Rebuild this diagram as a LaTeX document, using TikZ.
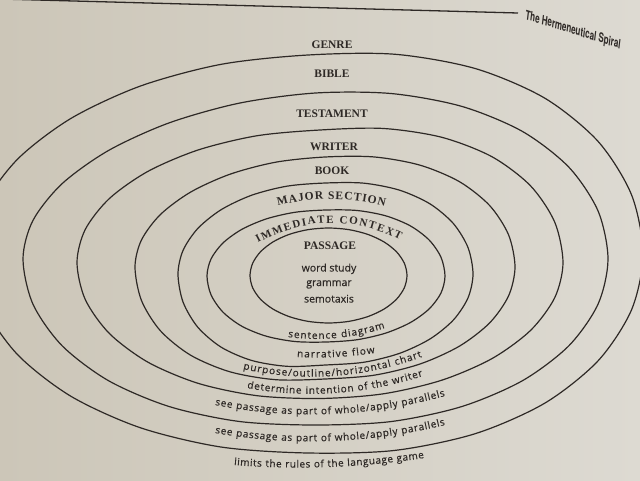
\documentclass[tikz,border=0pt]{standalone}
\usepackage{fontspec}
\usetikzlibrary{decorations.text}
\newfontfamily\capsfont{Liberation Serif}
\newfontfamily\lowfont{Open Sans}[FakeBold=0.4]
\newfontfamily\headfont{TeX Gyre Heros}
\definecolor{paperA}{RGB}{204,198,184}
\definecolor{paperB}{RGB}{221,218,210}
\definecolor{ink}{RGB}{46,41,38}
\newcommand{\capsarc}{\capsfont\bfseries\fontsize{11.5}{13}\selectfont}
\newcommand{\lowarc}{\lowfont\fontsize{10}{12}\selectfont}
% font, x left, x right, y left, y middle, y right, text
\newcommand{\arclabel}[7]{%
  \pgfmathsetmacro{\arcxm}{(#2+#3)/2}
  \pgfmathsetmacro{\arcqy}{2*#5-(#4+#6)/2}
  \pgfmathsetmacro{\arcax}{#2+2/3*(\arcxm-#2)}
  \pgfmathsetmacro{\arcay}{#4+2/3*(\arcqy-#4)}
  \pgfmathsetmacro{\arcbx}{#3+2/3*(\arcxm-#3)}
  \pgfmathsetmacro{\arcby}{#6+2/3*(\arcqy-#6)}
  \path[decorate, decoration={text along path, text color=ink,
      text align={fit to path}, text={|#1|#7}}]
    (#2,#4) .. controls (\arcax,\arcay) and (\arcbx,\arcby) .. (#3,#6);
}
% a ring: cx, cy, a, b top, b bottom, then the lean of each quarter
% (top left, top right, bottom left, bottom right), for the photo's slant
\newcommand{\ring}[9]{%
  \draw[ring] plot[smooth cycle, variable=\t, samples at={0,15,...,345}]
    ({#1+#3*cos(\t)},
     {\t<90 ? #2-#4*sin(\t)-#7*#3*cos(\t)*sin(\t) :
       (\t<180 ? #2-#4*sin(\t)-#6*#3*cos(\t)*sin(\t) :
       (\t<270 ? #2-#5*sin(\t)+#8*#3*cos(\t)*sin(\t) :
                 #2-#5*sin(\t)-#9*#3*cos(\t)*sin(\t)))});
}

\begin{document}
\begin{tikzpicture}[x=1pt, y=-1pt,
    ring/.style={draw=ink, line width=1.2pt},
    capslabel/.style={font=\capsarc, text=ink, inner sep=0pt, anchor=base},
    smalllabel/.style={font=\lowfont\fontsize{10.5}{12}\selectfont, text=ink, inner sep=0pt, anchor=base}]
    \useasboundingbox (0,0) rectangle (640,480);
    \shade[left color=paperA, right color=paperB] (0,0) rectangle (640,480);
    \clip (0,0) rectangle (640,480);

    % running head
    \draw[ink, line width=1.3pt] (0,-1) -- (518,13);
    \node[font=\headfont\bfseries\fontsize{13}{15}\selectfont, text=ink, xscale=0.62,
        rotate=-11, anchor=base west, inner sep=0pt] (head) at (525,19) {The Hermeneutical Spiral};

    % the rings, outside in
    \ring{308}{254}{335}{199}{199}{0.03}{0.09}{0.01}{0.05}
    \ring{315.5}{259}{292.5}{166}{166}{0.06}{0.07}{0.03}{0.03}
    \ring{320}{262.5}{243}{132.5}{136}{0.02}{0.1}{0.03}{0}
    \ring{325}{267}{190}{110}{112}{0.03}{0.08}{0.095}{0}
    \ring{325.5}{274}{147.5}{91}{91}{0}{0.08}{0.12}{0.01}
    \ring{326}{276}{119}{66}{66}{0}{0.06}{0.06}{0}
    \ring{328.5}{275.5}{78.5}{47.5}{47.5}{0}{0}{0}{0}

    % upper labels
    \node[capslabel] (genre) at (332,48) {GENRE};
    \node[capslabel] (bible) at (332,77) {BIBLE};
    \node[capslabel] (testament) at (332,117) {TESTAMENT};
    \node[capslabel] (writer) at (334,150) {WRITER};
    \node[capslabel] (book) at (332,174) {BOOK};
    \arclabel{\capsarc}{278}{385}{206}{199}{206}{MAJOR SECTION}
    \arclabel{\capsfont\bfseries\fontsize{11}{13}\selectfont}{258}{400}{243}{223}{240}{IMMEDIATE CONTEXT}
    \node[capslabel] (passage) at (330,249) {PASSAGE};

    % inside the passage
    \node[smalllabel] (wordstudy) at (329,271.5) {word study};
    \node[smalllabel] (grammar) at (329,286) {grammar};
    \node[smalllabel] (semotaxis) at (329,302.5) {semotaxis};

    % lower labels
    \arclabel{\lowarc}{288}{385}{337}{338}{328}{sentence diagram}
    \arclabel{\lowarc}{297}{375}{357}{357}{353}{narrative flow}
    \arclabel{\lowarc}{243}{422}{369}{376}{357}{purpose/outline/horizontal chart}
    \arclabel{\lowarc}{247}{423}{388}{393}{376}{determine intention of the writer}
    \arclabel{\lowarc}{215}{445}{405}{414}{396}{see passage as part of whole/apply parallels}
    \arclabel{\lowarc}{215}{445}{433}{441}{425}{see passage as part of whole/apply parallels}
    \arclabel{\lowarc}{234}{424}{465}{467}{458}{limits the rules of the language game}
\end{tikzpicture}
\end{document}
